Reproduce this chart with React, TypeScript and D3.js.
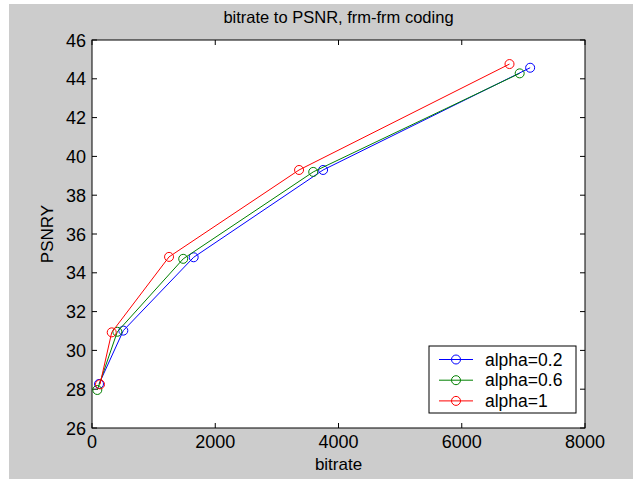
import React from "react";
import * as d3 from "d3";

const seriesNames = ["alpha=0.2", "alpha=0.6", "alpha=1"];
const seriesColors = ["#0000ff", "#008000", "#ff0000"];
const blueX = [114, 508, 1650, 3750, 7110];
const blueY = [28.27, 31.02, 34.8, 39.3, 44.57];
const greenX = [86, 411, 1480, 3590, 6940];
const greenY = [27.96, 30.96, 34.72, 39.2, 44.28];
const redX = [130, 320, 1250, 3360, 6775];
const redY = [28.25, 30.93, 34.82, 39.3, 44.76];
const xTicks = [0, 2000, 4000, 6000, 8000];
const yTicks = [26, 28, 30, 32, 34, 36, 38, 40, 42, 44, 46];

const W = 633, H = 479;
const L = 92, R = 585, T = 40, B = 428;
const font = "'Liberation Sans', Arial, sans-serif";

export default function App() {
  const x = d3.scaleLinear().domain([0, 8000]).range([L, R]);
  const y = d3.scaleLinear().domain([26, 46]).range([B, T]);
  const series = [
    { xs: blueX, ys: blueY },
    { xs: greenX, ys: greenY },
    { xs: redX, ys: redY },
  ];
  const line = d3.line<[number, number]>().x(d => x(d[0])).y(d => y(d[1]));
  const tl = 5;
  return (
    <svg width={W} height={H} style={{ position: "absolute", left: 0, top: 0 }}>
      <rect x={0} y={0} width={W} height={H} fill="#ffffff" />
      <rect x={9} y={4} width={W - 9} height={H - 4} fill="#cccccc" />
      <rect x={L} y={T} width={R - L} height={B - T} fill="#ffffff" />
      {xTicks.map(t => (
        <g key={"x" + t}>
          <line x1={x(t)} x2={x(t)} y1={B} y2={B - tl} stroke="#000" />
          <line x1={x(t)} x2={x(t)} y1={T} y2={T + tl} stroke="#000" />
          <text x={x(t)} y={448} fontSize={18} fontFamily={font} textAnchor="middle">{t}</text>
        </g>
      ))}
      {yTicks.map(t => (
        <g key={"y" + t}>
          <line x1={L} x2={L + tl} y1={y(t)} y2={y(t)} stroke="#000" />
          <line x1={R} x2={R - tl} y1={y(t)} y2={y(t)} stroke="#000" />
          <text x={86} y={y(t) + 6.5} fontSize={18} fontFamily={font} textAnchor="end">{t}</text>
        </g>
      ))}
      <rect x={L} y={T} width={R - L} height={B - T} fill="none" stroke="#000" strokeWidth={1} />
      {series.map((s, i) => {
        const pts = s.xs.map((v, j) => [v, s.ys[j]] as [number, number]);
        return (
          <g key={"s" + i}>
            <path d={line(pts) || ""} fill="none" stroke={seriesColors[i]} strokeWidth={1} />
            {pts.map((p, j) => (
              <circle key={j} cx={x(p[0])} cy={y(p[1])} r={4.5} fill="none" stroke={seriesColors[i]} strokeWidth={1} />
            ))}
          </g>
        );
      })}
      <text x={(L + R) / 2} y={23} fontSize={16.5} fontFamily={font} textAnchor="middle">bitrate to PSNR, frm-frm coding</text>
      <text x={(L + R) / 2} y={470} fontSize={17} fontFamily={font} textAnchor="middle">bitrate</text>
      <text transform={`translate(53, ${(T + B) / 2}) rotate(-90)`} fontSize={17} fontFamily={font} textAnchor="middle">PSNRY</text>
      <g>
        <rect x={429} y={346} width={147} height={67} fill="#ffffff" stroke="#000" />
        {seriesNames.map((n, i) => {
          const ry = 359.5 + i * 20.7;
          return (
            <g key={n}>
              <line x1={439} x2={473} y1={ry} y2={ry} stroke={seriesColors[i]} />
              <circle cx={456} cy={ry} r={4.5} fill="none" stroke={seriesColors[i]} />
              <text x={485} y={ry + 6} fontSize={17.5} fontFamily={font}>{n}</text>
            </g>
          );
        })}
      </g>
    </svg>
  );
}
